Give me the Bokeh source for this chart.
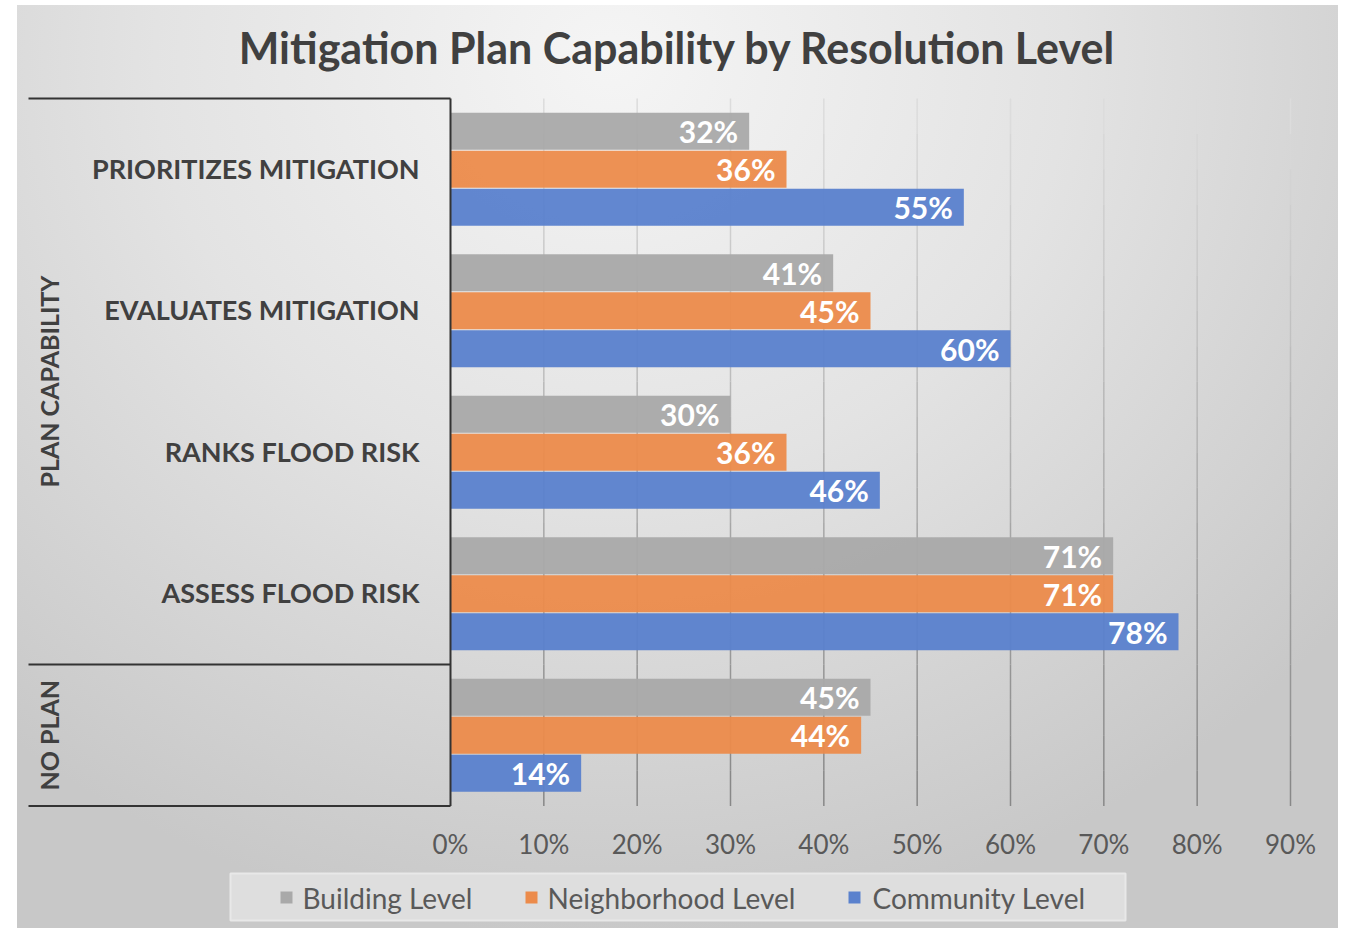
from math import pi

from bokeh.core.properties import value
from bokeh.embed import file_html
from bokeh.layouts import column
from bokeh.models import (ColumnDataSource, FixedTicker, PrintfTickFormatter,
                          Range1d)
from bokeh.plotting import figure
from bokeh.resources import INLINE

# ---- data -------------------------------------------------------------
title = "Mitigation Plan Capability by Resolution Level"
categories = ["PRIORITIZES MITIGATION", "EVALUATES MITIGATION",
              "RANKS FLOOD RISK", "ASSESS FLOOD RISK", ""]
groups = ["PLAN CAPABILITY", "NO PLAN"]
group_sizes = [4, 1]
series_names = ["Building Level", "Neighborhood Level", "Community Level"]
building = [32, 41, 30, 71, 45]
neighborhood = [36, 45, 36, 71, 44]
community = [55, 60, 46, 78, 14]
x_ticks = [0, 10, 20, 30, 40, 50, 60, 70, 80, 90]

series_values = [building, neighborhood, community]
colors = ["#a9a9a9", "#ec8b4b", "#5a81cd"]

# ---- layout constants -------------------------------------------------
FIG_W = 1321
MAIN_H, LEG_H = 860, 63
BORDER_L, BORDER_R, BORDER_B = 5, 38, 52
PX_PER_PCT = 840 / 90          # horizontal pixels per percentage point
PX_PER_BAND = 141.5            # vertical pixels per category band
ZERO_X = 433                   # pixel of 0% inside the figure
TOP_Y = 93                     # pixel of the first band's top edge

frame_w = FIG_W - BORDER_L - BORDER_R
frame_h = MAIN_H - BORDER_B
x_start = (BORDER_L - ZERO_X) / PX_PER_PCT
x_end = x_start + frame_w / PX_PER_PCT
y_top = -TOP_Y / PX_PER_BAND
y_bottom = y_top + frame_h / PX_PER_BAND

FONT = value("Lato")
DARK = "#404040"
MUTED = "#595959"

p = figure(width=FIG_W, height=MAIN_H, output_backend="svg",
           toolbar_location=None, y_axis_location=None,
           x_range=Range1d(x_start, x_end),
           y_range=Range1d(y_bottom, y_top),
           min_border_left=BORDER_L, min_border_right=BORDER_R,
           min_border_top=0, min_border_bottom=BORDER_B,
           background_fill_color=None, border_fill_color=None,
           outline_line_color=None)
p.xgrid.visible = False
p.ygrid.visible = False

# ---- vertical grid lines, fading from light at top to darker at bottom --
n_pieces = 20
gx, gy0, gy1, gc = [], [], [], []
n_cat = len(categories)
for t in x_ticks[1:]:
    for j in range(n_pieces):
        f = j / (n_pieces - 1)
        shade = int(0xdc - f * (0xdc - 0x88))
        gx.append(t)
        gy0.append(j * n_cat / n_pieces)
        gy1.append((j + 1) * n_cat / n_pieces)
        gc.append("#%02x%02x%02x" % (shade, shade, shade))
p.segment(x0=gx, y0=gy0, x1=gx, y1=gy1, line_color=gc, line_width=1.5)

# ---- bars -------------------------------------------------------------
bar_step = 0.268
bar_h = 0.262
for s, (name, vals, col) in enumerate(zip(series_names, series_values, colors)):
    ys = [i + 0.5 + (s - 1) * bar_step for i in range(n_cat)]
    src = ColumnDataSource(dict(y=ys, right=vals,
                                label=["%d%%" % v for v in vals]))
    p.hbar(y="y", right="right", left=0, height=bar_h, source=src,
           fill_color=col, fill_alpha=0.95, line_color=None)
    p.text(x="right", y="y", text="label", source=src, x_offset=-11,
           text_align="right", text_baseline="middle", text_color="white",
           text_font=FONT, text_font_style="bold", text_font_size="30px")

# ---- category box on the left -----------------------------------------
box_left = (28 - 450) / PX_PER_PCT
sep_y = [0]
acc = 0
for g in group_sizes:
    acc += g
    sep_y.append(acc)
p.segment(x0=[box_left] * len(sep_y), y0=sep_y, x1=[0] * len(sep_y),
          y1=sep_y, line_color="#333333", line_width=2)
p.segment(x0=[0], y0=[0], x1=[0], y1=[n_cat], line_color="#333333",
          line_width=2)

p.text(x=[0] * n_cat, y=[i + 0.5 for i in range(n_cat)], text=categories,
       x_offset=-31, y_offset=-1, text_align="right", text_baseline="middle",
       text_color=DARK, text_font=FONT, text_font_style="bold",
       text_font_size="27px")

group_centers = [(sep_y[k] + sep_y[k + 1]) / 2 for k in range(len(groups))]
p.text(x=[(48 - 450) / PX_PER_PCT] * len(groups), y=group_centers,
       text=groups, angle=pi / 2, text_align="center",
       text_baseline="middle", text_color=DARK, text_font=FONT,
       text_font_style="bold", text_font_size="25px")

# ---- title ------------------------------------------------------------
p.text(x=[(677 - 450) / PX_PER_PCT], y=[(47 - 98) / PX_PER_BAND],
       text=[title], text_align="center", text_baseline="middle",
       text_color=DARK, text_font=FONT, text_font_style="bold",
       text_font_size="43px")

# ---- x axis -----------------------------------------------------------
ax = p.xaxis[0]
ax.ticker = FixedTicker(ticks=x_ticks)
ax.formatter = PrintfTickFormatter(format="%d%%")
ax.axis_line_color = None
ax.major_tick_line_color = None
ax.minor_tick_line_color = None
ax.major_tick_out = 0
ax.major_tick_in = 0
ax.major_label_standoff = 14
ax.major_label_text_font = "Lato"
ax.major_label_text_font_size = "26px"
ax.major_label_text_color = MUTED

# ---- legend strip (pixel coordinates of the strip, y downward) ---------
leg = figure(width=FIG_W, height=LEG_H, output_backend="svg",
             toolbar_location=None, x_axis_location=None,
             y_axis_location=None,
             x_range=Range1d(BORDER_L, FIG_W - BORDER_R),
             y_range=Range1d(LEG_H, 0),
             min_border_left=BORDER_L, min_border_right=BORDER_R,
             min_border_top=0, min_border_bottom=0,
             background_fill_color=None, border_fill_color=None,
             outline_line_color=None)
leg.xgrid.visible = False
leg.ygrid.visible = False

leg.quad(left=[213], right=[1108], top=[8], bottom=[55],
         fill_color="#dedede", line_color="#e8e8e8", line_width=2)
swatch_x = [269, 514, 837]
label_x = [285, 530, 855]
leg.scatter(x=swatch_x, y=[32] * 3, marker="square", size=12,
            fill_color=colors, line_color=None)
leg.text(x=label_x, y=[32] * 3, text=series_names, text_align="left",
         text_baseline="middle", text_color=MUTED, text_font=FONT,
         text_font_size="28px")

layout = column(p, leg, spacing=0)
layout.styles = {
    "margin-left": "17px",
    "margin-top": "5px",
    "background": "radial-gradient(ellipse 72% 95% at 45% 6%, #f5f5f5 0%, "
                  "#e3e3e3 48%, #c8c8c8 100%)",
}

open("out.html", "w").write(file_html(layout, INLINE))
